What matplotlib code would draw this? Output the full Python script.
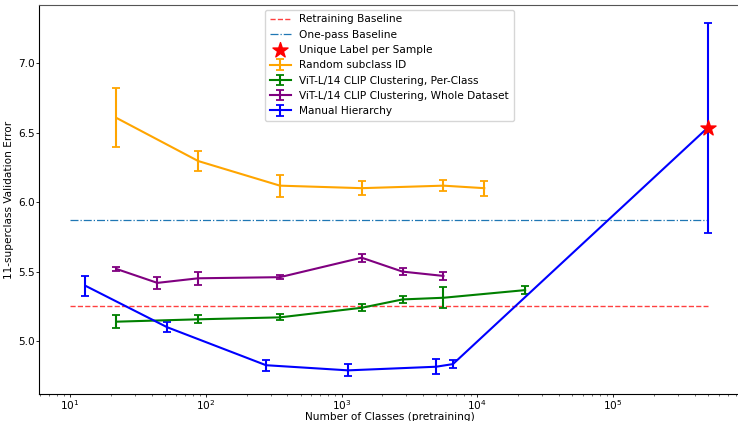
import matplotlib
matplotlib.use('Agg')
import matplotlib.pyplot as plt
import numpy as np

# values
random_x = [22, 88, 352, 1408, 5632, 11264]
random_y = [6.605, 6.295, 6.118, 6.10, 6.118, 6.10]
random_err = [0.212, 0.069, 0.078, 0.05, 0.04, 0.055]

perclass_x = [22, 88, 352, 1408, 2816, 5632, 22528]
perclass_y = [5.14, 5.157, 5.171, 5.24, 5.30, 5.312, 5.367]
perclass_err = [0.049, 0.03, 0.022, 0.025, 0.024, 0.076, 0.031]

whole_x = [22, 44, 88, 352, 1408, 2816, 5632]
whole_y = [5.519, 5.419, 5.452, 5.46, 5.60, 5.50, 5.469]
whole_err = [0.013, 0.044, 0.046, 0.015, 0.029, 0.026, 0.028]

manual_x = [13, 52, 278, 1117, 4966, 6620, 500000]
manual_y = [5.398, 5.10, 4.827, 4.79, 4.816, 4.835, 6.536]
manual_err = [0.074, 0.037, 0.04, 0.043, 0.053, 0.027, 0.755]

unique_x = [500000]
unique_y = [6.536]

retrain_base = 5.25
onepass_base = 5.87
base_xmin, base_xmax = 10, 500000

fs = 7.6
plt.rcParams['font.size'] = fs
fig = plt.figure(figsize=(7.38, 4.21), dpi=100)
ax = fig.add_axes([39 / 738, 27 / 421, 701 / 738, 389 / 421])

ax.hlines(retrain_base, base_xmin, base_xmax, colors='red', linestyles='--',
          linewidth=1.0, alpha=0.75, label='Retraining Baseline')
ax.hlines(onepass_base, base_xmin, base_xmax, colors='tab:blue', linestyles='-.',
          linewidth=0.9, label='One-pass Baseline')
ax.scatter(unique_x, unique_y, marker='*', s=130, color='red', zorder=5,
           label='Unique Label per Sample')

kw = dict(linewidth=1.5, capsize=2.6, capthick=1.3, elinewidth=1.5)
ax.errorbar(random_x, random_y, yerr=random_err, color='orange',
            label='Random subclass ID', **kw)
ax.errorbar(perclass_x, perclass_y, yerr=perclass_err, color='green',
            label='ViT-L/14 CLIP Clustering, Per-Class', **kw)
ax.errorbar(whole_x, whole_y, yerr=whole_err, color='purple',
            label='ViT-L/14 CLIP Clustering, Whole Dataset', **kw)
ax.errorbar(manual_x, manual_y, yerr=manual_err, color='blue',
            label='Manual Hierarchy', **kw)

ax.set_xscale('log')
ax.set_xlim(10 ** 0.7716, 10 ** 5.9355)
ax.set_ylim(4.62, 7.417)
ax.set_yticks([5.0, 5.5, 6.0, 6.5, 7.0])
ax.tick_params(which='major', length=2.0, width=0.6, pad=0.8, labelsize=fs)
ax.tick_params(which='minor', length=1.3, width=0.4)
ax.set_xlabel('Number of Classes (pretraining)', fontsize=fs, labelpad=0)
ax.set_ylabel('11-superclass Validation Error', fontsize=fs, labelpad=3)
ax.spines['top'].set_color('#555555')

ax.legend(loc='upper center', fontsize=fs, borderaxespad=0.45, handlelength=2.0,
          borderpad=0.45, labelspacing=0.5)

fig.savefig('out.png', dpi=100)
